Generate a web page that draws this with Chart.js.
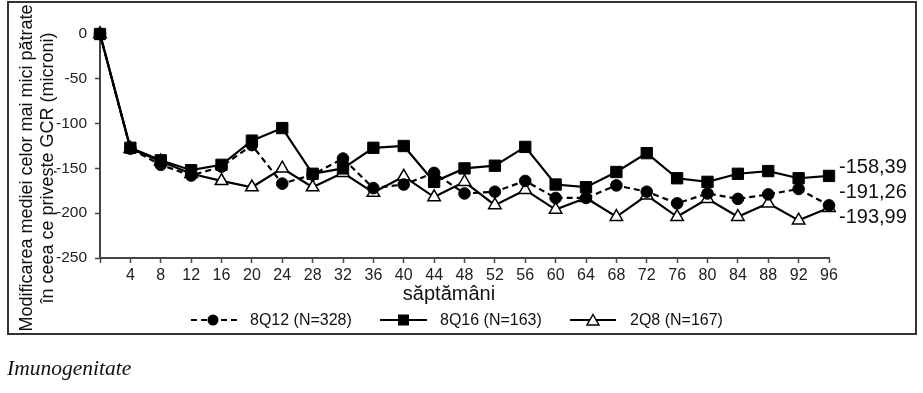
<!DOCTYPE html>
<html>
<head>
<meta charset="utf-8">
<script src="https://cdn.jsdelivr.net/npm/chart.js@4"></script>
<style>
  body { margin: 0; background: #fff; width: 923px; height: 393px; overflow: hidden; position: relative; font-family: "Liberation Sans", Arial, sans-serif; color: #111; }
  #chart { position: absolute; left: 0; top: 0; }
  .box { position: absolute; left: 7px; top: 1px; width: 906px; height: 330px; border: 2px solid #333; }
  .txt { position: absolute; white-space: nowrap; }
  .ytitle { position: absolute; left: -133px; top: 147px; width: 340px; height: 42px; font-size: 18px; line-height: 21px; text-align: center; transform: rotate(-90deg); transform-origin: 50% 50%; white-space: nowrap; }
  .endlbl { font-size: 20px; line-height: 24px; left: 839px; }
  .leg { font-size: 16px; line-height: 20px; top: 310px; }
  .legicon { position: absolute; top: 312px; }
</style>
</head>
<body>
<div class="box"></div>
<canvas id="chart" width="923" height="393"></canvas>

<div class="ytitle">Modificarea mediei celor mai mici pătrate<br>în ceea ce privește GCR (microni)</div>
<div class="txt" style="left:349px; top:281px; width:200px; text-align:center; font-size:20px; line-height:24px;">săptămâni</div>

<div class="txt endlbl" style="top:154px;">-158,39</div>
<div class="txt endlbl" style="top:179px;">-191,26</div>
<div class="txt endlbl" style="top:204px;">-193,99</div>

<!-- legend -->
<svg class="legicon" style="left:190px" width="48" height="16">
  <line x1="1" y1="8" x2="47" y2="8" stroke="#000" stroke-width="2" stroke-dasharray="6,4"/>
  <circle cx="23" cy="8" r="5.5" fill="#000"/>
</svg>
<div class="txt leg" style="left:250px;">8Q12 (N=328)</div>
<svg class="legicon" style="left:380px" width="48" height="16">
  <line x1="0" y1="8" x2="47" y2="8" stroke="#000" stroke-width="2"/>
  <rect x="18" y="2.5" width="11" height="11" fill="#000"/>
</svg>
<div class="txt leg" style="left:440px;">8Q16 (N=163)</div>
<svg class="legicon" style="left:570px" width="48" height="16">
  <line x1="0" y1="8" x2="46" y2="8" stroke="#000" stroke-width="2"/>
  <polygon points="23,2.5 29,13 17,13" fill="#fff" stroke="#000" stroke-width="1.5"/>
</svg>
<div class="txt leg" style="left:630px;">2Q8 (N=167)</div>

<div class="txt" style="left:7px; top:356px; font-family:'Liberation Serif','Times New Roman',serif; font-style:italic; font-size:21.5px; line-height:24px;">Imunogenitate</div>

<script>
// weeks on the x axis
const weeks = [0, 4, 8, 12, 16, 20, 24, 28, 32, 36, 40, 44, 48, 52, 56, 60, 64, 68, 72, 76, 80, 84, 88, 92, 96];

// change from baseline in CST (microns)
const q12Values = [0, -128, -146, -158, -148, -124, -167, -157, -139, -172, -168, -155, -178, -176, -164, -183, -183, -169, -176, -189, -178, -184, -179, -173, -191.26];
const q16Values = [0, -127, -141, -152, -146, -119, -105, -156, -150, -127, -125, -165, -150, -147, -126, -168, -171, -154, -133, -161, -165, -156, -153, -161, -158.39];
const q8Values  = [0, -128, -142, -156, -164, -171, -150, -171, -155, -177, -159, -182, -165, -191, -174, -196, -183, -204, -180, -204, -184, -204, -189, -208, -193.99];

const yTicks = [0, -50, -100, -150, -200, -250];

function toPoints(values) {
  return values.map((v, i) => ({ x: weeks[i], y: v }));
}

const axisColor = "#444";

new Chart(document.getElementById("chart").getContext("2d"), {
  type: "line",
  data: {
    datasets: [
      {
        label: "8Q12 (N=328)",
        data: toPoints(q12Values),
        borderColor: "#000",
        borderWidth: 2.2,
        borderDash: [6, 4],
        pointStyle: "circle",
        pointRadius: 5.8,
        pointBackgroundColor: "#000",
        pointBorderColor: "#000",
        pointBorderWidth: 1,
        clip: false
      },
      {
        label: "8Q16 (N=163)",
        data: toPoints(q16Values),
        borderColor: "#000",
        borderWidth: 2.2,
        pointStyle: "rect",
        pointRadius: 8,
        pointBackgroundColor: "#000",
        pointBorderColor: "#000",
        pointBorderWidth: 1,
        clip: false
      },
      {
        label: "2Q8 (N=167)",
        data: toPoints(q8Values),
        borderColor: "#000",
        borderWidth: 2.2,
        pointStyle: "triangle",
        pointRadius: 7.2,
        pointBackgroundColor: "#fff",
        pointBorderColor: "#000",
        pointBorderWidth: 1.5,
        clip: false
      }
    ]
  },
  options: {
    responsive: false,
    animation: false,
    devicePixelRatio: 1,
    layout: { padding: { left: 8, top: 34, right: 94, bottom: 0 } },
    plugins: { legend: { display: false }, tooltip: { enabled: false } },
    elements: { line: { tension: 0 } },
    scales: {
      x: {
        type: "linear",
        min: 0,
        max: 96,
        afterFit: scale => { scale.height = 135; },
        afterBuildTicks: scale => { scale.ticks = weeks.map(w => ({ value: w })); },
        ticks: {
          font: { family: "'Liberation Sans', Arial, sans-serif", size: 16 },
          color: "#222",
          padding: 3,
          maxRotation: 0,
          autoSkip: false,
          callback: v => (v === 0 ? "" : v)
        },
        grid: { drawOnChartArea: false, drawTicks: true, tickLength: 5, tickColor: axisColor, tickWidth: 1.5 },
        border: { display: true, color: axisColor, width: 2 }
      },
      y: {
        min: -250,
        max: 0,
        afterFit: scale => { scale.width = 92; },
        afterBuildTicks: scale => { scale.ticks = yTicks.map(v => ({ value: v })); },
        ticks: { font: { family: "'Liberation Sans', Arial, sans-serif", size: 15.5 }, color: "#222", padding: 8 },
        grid: { drawOnChartArea: false, drawTicks: true, tickLength: 5, tickColor: axisColor, tickWidth: 1.5 },
        border: { display: true, color: axisColor, width: 2 }
      }
    }
  }
});
</script>
</body>
</html>
